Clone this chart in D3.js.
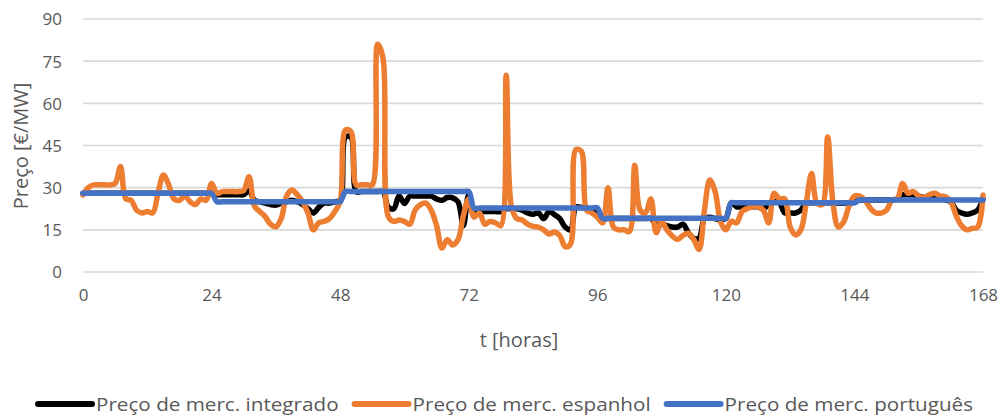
<!DOCTYPE html>
<html>
<head>
<meta charset="utf-8">
<script src="https://cdn.jsdelivr.net/npm/d3@7"></script>
<style>
  body { margin: 0; background: #FFFFFF; }
  svg { display: block; }
</style>
</head>
<body>
<svg></svg>
<script>
//--Data (hourly prices, €/MW)
const hours = d3.range(0, 169);

const integrated = [
  28, 28, 28, 28, 28, 28, 28, 28, 28, 28, 28, 28, 28, 28, 28, 28, 28, 28, 28, 28, 28, 28, 28, 28, 28,
  27.5, 27.5, 27.5, 27.5, 27.5, 27.5, 29, 25.5, 25, 24.5, 24, 23.8, 24.5, 25, 25.5, 25, 24, 22.5, 21, 23, 24.5, 24.5, 25, 25.5,
  48, 48, 28.6, 28.6, 28.6, 28.6, 28.6, 28.6, 23, 22.5, 27, 24.4, 27, 27, 27, 27, 27, 26, 25.5, 26.5, 26.4, 25, 16.5, 27.5,
  21.5, 21.5, 21.5, 21.5, 21.5, 21.5, 22.5, 22.5, 22.5, 22, 21, 20.5, 21, 19, 21.5, 20.4, 19, 16, 15, 23, 23, 22.8, 22, 22,
  19, 19, 19, 19, 19, 19, 19, 19, 19, 19, 17, 17, 16.5, 16, 16, 17, 14, 12, 12, 19, 19.5, 19, 18.5, 19,
  24.6, 23.2, 23.2, 23.2, 23.2, 23.2, 22.5, 24, 25, 24.6, 21, 21, 21, 22, 24.6, 24.6, 24.6, 24.6, 24.6, 24.6, 24.5, 24.5, 24.5, 25,
  25.6, 25.6, 25.6, 25.6, 25.6, 25.6, 25.6, 26, 27.5, 27.5, 27.5, 27, 26.5, 26.5, 26.5, 26, 25.6, 25, 22, 21, 20.5, 21, 22, 26
];

const spanish = [
  27.4, 30, 31, 31, 31, 31, 31.5, 37.5, 26, 25.5, 22, 21, 21.5, 21, 28, 34.5, 31, 26, 25.5, 27, 25, 24, 26, 25.5, 31.5,
  28, 28.6, 28.6, 28.6, 28.6, 29, 33.9, 23.5, 21.5, 19.7, 17, 16.1, 19, 27, 29.2, 27.5, 25, 21, 15, 17.5, 18, 19, 21.5, 25,
  50.5, 50, 31, 31, 31, 31, 81, 76, 19.7, 18, 18.5, 18, 17, 22, 24, 24.5, 22, 16.5, 8.5, 11.5, 9.6, 11.5, 20, 26,
  19.5, 21, 17, 18, 17.5, 16.5, 70, 23, 19, 18.5, 17, 16.2, 16, 15, 13.5, 14.2, 13, 9, 10, 43.5, 43, 22, 21, 19.5,
  17.5, 30, 16, 15, 15, 14.4, 38, 22, 21, 26, 14, 18, 15, 12.8, 11.6, 13, 13.8, 11.6, 8, 22, 32.7, 28.6, 18, 15,
  18, 17.5, 21.5, 22.6, 23.2, 23.2, 22, 17.5, 28, 26, 26, 16, 13.2, 15, 24.5, 35, 24.5, 24, 48, 24.5, 16, 17.9, 23.5, 27,
  27, 25.5, 22.6, 21, 21, 22, 25.6, 26, 31.5, 28, 28.6, 27, 26.5, 27.5, 28, 27, 26.8, 25, 20, 16.5, 15, 15.5, 16, 27.4
];

const portuguese = [
  28, 28, 28, 28, 28, 28, 28, 28, 28, 28, 28, 28, 28, 28, 28, 28, 28, 28, 28, 28, 28, 28, 28, 28, 28,
  25, 25, 25, 25, 25, 25, 25, 25, 25, 25, 25, 25, 25, 25, 25, 25, 25, 25, 25, 25, 25, 25, 25, 25,
  28.6, 28.6, 28.6, 28.6, 28.6, 28.6, 28.6, 28.6, 28.6, 28.6, 28.6, 28.6, 28.6, 28.6, 28.6, 28.6, 28.6, 28.6, 28.6, 28.6, 28.6, 28.6, 28.6, 28.6,
  22.8, 22.8, 22.8, 22.8, 22.8, 22.8, 22.8, 22.8, 22.8, 22.8, 22.8, 22.8, 22.8, 22.8, 22.8, 22.8, 22.8, 22.8, 22.8, 22.8, 22.8, 22.8, 22.8, 22.8,
  19.1, 19.1, 19.1, 19.1, 19.1, 19.1, 19.1, 19.1, 19.1, 19.1, 19.1, 19.1, 19.1, 19.1, 19.1, 19.1, 19.1, 19.1, 19.1, 19.1, 19.1, 19.1, 19.1, 19.1,
  24.6, 24.6, 24.6, 24.6, 24.6, 24.6, 24.6, 24.6, 24.6, 24.6, 24.6, 24.6, 24.6, 24.6, 24.6, 24.6, 24.6, 24.6, 24.6, 24.6, 24.6, 24.6, 24.6, 24.6,
  25.6, 25.6, 25.6, 25.6, 25.6, 25.6, 25.6, 25.6, 25.6, 25.6, 25.6, 25.6, 25.6, 25.6, 25.6, 25.6, 25.6, 25.6, 25.6, 25.6, 25.6, 25.6, 25.6, 25.6
];

const xTicks = [0, 24, 48, 72, 96, 120, 144, 168];
const yTicks = [0, 15, 30, 45, 60, 75, 90];

const seriesNames = ["Preço de merc. integrado", "Preço de merc. espanhol", "Preço de merc. português"];
const seriesColors = ["#000000", "#ED7D31", "#4472C4"];

//--Canvas
const canvas = {
  width: 1003,
  height: 416,
  font: "'Open Sans', 'Noto Sans', sans-serif",
  textColor: "#595959"
};

const x = d3.scaleLinear().domain([0, 168]).range([83, 983]);
const y = d3.scaleLinear().domain([0, 90]).range([272, 19]);

let root = d3.select("svg")
  .attr("width", canvas.width)
  .attr("height", canvas.height)
  .style("font-family", canvas.font);

//--Grid
root.append("g")
  .classed("grid", true)
  .selectAll("line")
  .data(yTicks)
  .join("line")
  .attr("x1", x(0))
  .attr("x2", x(168))
  .attr("y1", d => y(d))
  .attr("y2", d => y(d))
  .attr("stroke", "#D9D9D9")
  .attr("stroke-width", 1.6);

//--Axes (labels only, Excel style)
const xAxis = root.append("g")
  .attr("transform", "translate(0," + y(0) + ")")
  .call(d3.axisBottom(x).tickValues(xTicks).tickSize(0).tickPadding(17));
const yAxis = root.append("g")
  .attr("transform", "translate(" + x(0) + ",0)")
  .call(d3.axisLeft(y).tickValues(yTicks).tickSize(0).tickPadding(21));
[xAxis, yAxis].forEach(a => {
  a.select(".domain").remove();
  a.selectAll("text")
    .attr("fill", canvas.textColor)
    .style("font-family", canvas.font)
    .style("font-size", "17px");
});
yAxis.selectAll("text").attr("dy", "0.35em");

root.append("text")
  .attr("x", 519)
  .attr("y", 347)
  .attr("text-anchor", "middle")
  .attr("fill", canvas.textColor)
  .style("font-size", "20px")
  .text("t [horas]");

root.append("text")
  .attr("transform", "translate(28,146)rotate(-90)")
  .attr("text-anchor", "middle")
  .attr("fill", canvas.textColor)
  .style("font-size", "20px")
  .text("Preço [€/MW]");

//--Lines
const line = values => d3.line()
  .x((d, i) => x(hours[i]))
  .y(d => y(d))
  .curve(d3.curveCatmullRom.alpha(0.5))(values);

root.append("g")
  .classed("lines", true)
  .selectAll("path")
  .data([integrated, spanish, portuguese])
  .join("path")
  .attr("d", d => line(d))
  .attr("fill", "none")
  .attr("stroke", (d, i) => seriesColors[i])
  .attr("stroke-width", 5.5)
  .attr("stroke-linejoin", "round")
  .attr("stroke-linecap", "round");

//--Legend: items laid out in a row between x=35 and x=972
const legend = root.append("g").classed("legend", true);
const legendY = 404, swatch = 60, gap = 14, left = 35, right = 972;
let texts = seriesNames.map((name, i) => legend.append("text")
  .attr("y", legendY)
  .attr("dy", "0.35em")
  .attr("fill", canvas.textColor)
  .style("font-size", "19px")
  .text(name));
const natural = texts.map(t => t.node().getComputedTextLength());
const k = (right - left - 3 * swatch - 2 * gap) / d3.sum(natural);
let cx = left;
texts.forEach((t, i) => {
  legend.append("line")
    .attr("x1", cx + 3)
    .attr("x2", cx + swatch - 3)
    .attr("y1", legendY)
    .attr("y2", legendY)
    .attr("stroke", seriesColors[i])
    .attr("stroke-width", 6)
    .attr("stroke-linecap", "round");
  const w = natural[i] * k;
  t.attr("x", cx + swatch + 1)
    .attr("textLength", w)
    .attr("lengthAdjust", "spacingAndGlyphs");
  cx += swatch + w + gap;
});
</script>
</body>
</html>
